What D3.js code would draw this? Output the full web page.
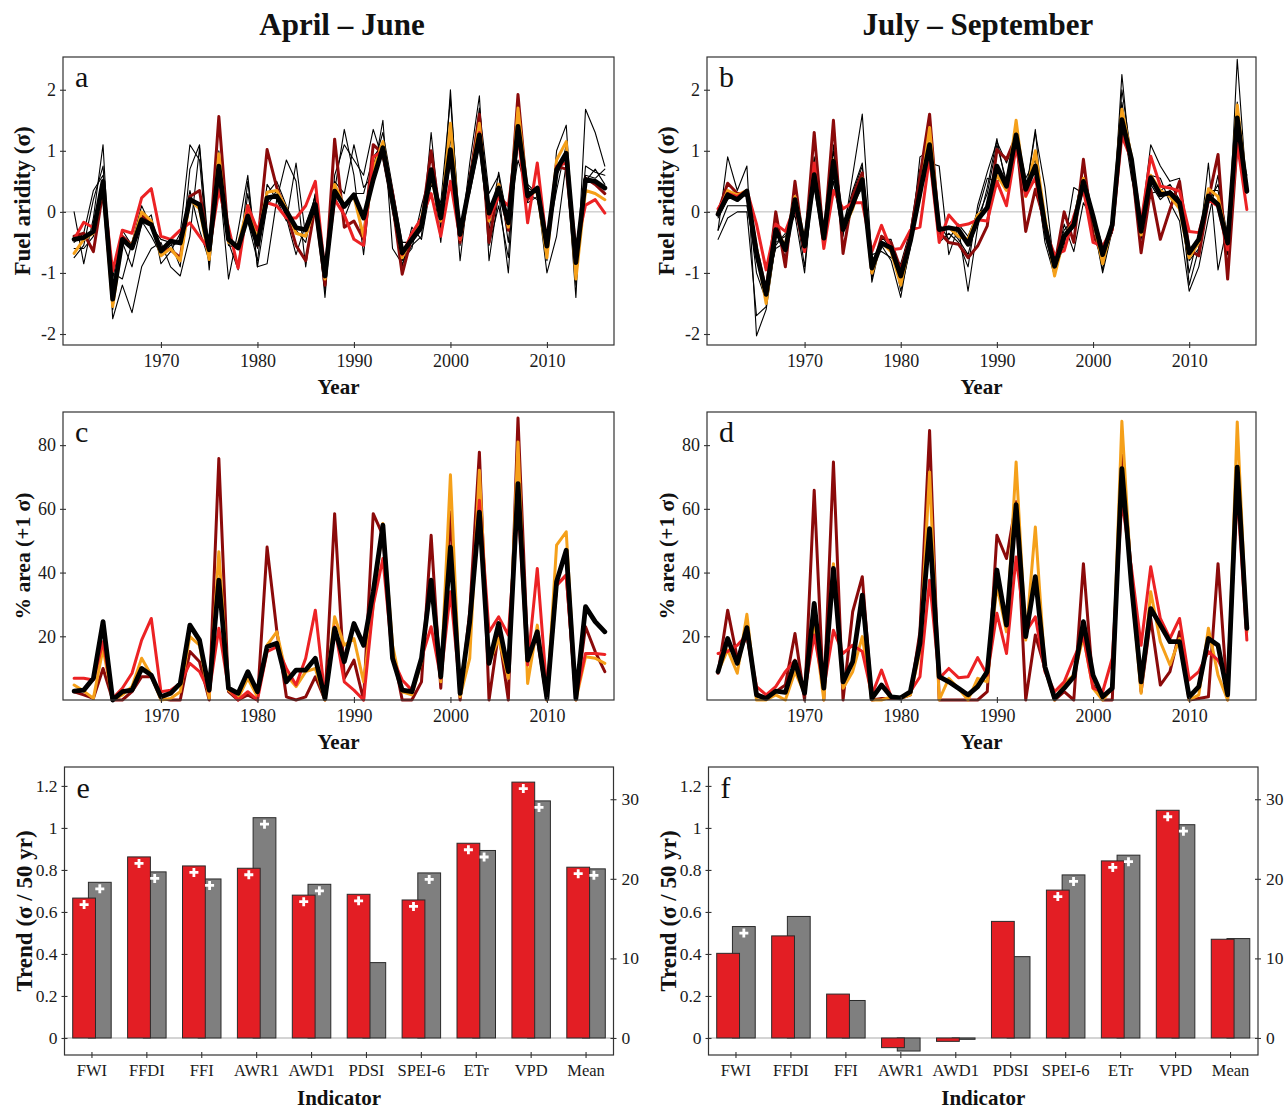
<!DOCTYPE html>
<html><head><meta charset="utf-8">
<script src="https://cdn.jsdelivr.net/npm/d3@7"></script>
<style>body{margin:0;background:#fff}</style>
</head><body>
<script>
// ---------------- DATA ----------------
const firstYear = 1961, lastYear = 2016;
const years = d3.range(firstYear, lastYear + 1);
const yearTicks = [1970, 1980, 1990, 2000, 2010];

// Panel a (April-June fuel aridity, sigma)
const aMean   = [-0.45,-0.42,-0.32,0.5,-1.43,-0.45,-0.59,-0.13,-0.21,-0.64,-0.48,-0.51,0.2,0.12,-0.62,0.75,-0.45,-0.59,-0.07,-0.53,0.23,0.26,0.01,-0.26,-0.29,0.12,-1.05,0.34,0.09,0.28,-0.1,0.53,1.05,0.2,-0.67,-0.45,-0.23,0.69,-0.1,1.02,-0.37,0.45,1.26,-0.02,0.39,-0.18,1.4,0.26,0.39,-0.56,0.69,0.96,-0.83,0.53,0.5,0.39];
const aDarkRed= [-0.4,-0.35,-0.65,0.35,-1.45,-0.4,-0.55,-0.05,-0.2,-0.6,-0.62,-0.75,0.25,0.35,-0.65,1.56,-0.45,-0.6,0.05,-0.55,1.02,0.4,0.0,-0.55,-0.8,0.1,-1.2,1.19,-0.25,-0.15,-0.45,1.1,0.95,0.15,-1.02,-0.4,-0.2,1.0,-0.15,0.95,-0.5,0.5,1.6,-0.5,0.45,-0.3,1.92,0.2,0.4,-0.6,0.75,0.7,-0.8,0.55,0.45,0.3];
const aOrange = [-0.68,-0.45,-0.35,0.45,-1.55,-0.45,-0.55,0.0,-0.15,-0.72,-0.6,-0.8,0.2,0.05,-0.78,0.95,-0.5,-0.55,0.1,-0.45,0.32,0.35,0.05,-0.35,-0.4,0.12,-1.1,0.45,0.1,0.25,-0.4,0.7,1.15,0.2,-0.75,-0.4,-0.1,0.6,-0.15,1.45,-0.45,0.45,1.45,-0.15,0.45,-0.25,1.7,0.25,0.35,-0.75,0.85,1.15,-1.1,0.35,0.3,0.2];
const aRed    = [-0.45,-0.17,-0.26,0.4,-0.97,-0.3,-0.35,0.23,0.38,-0.4,-0.45,-0.3,-0.18,-0.4,-0.62,0.36,-0.25,-0.92,0.1,-0.3,0.15,0.1,-0.1,-0.1,0.1,0.5,-1.0,0.2,-0.05,-0.45,-0.55,0.9,1.0,0.3,-0.7,-0.35,-0.1,0.3,-0.4,0.5,-0.45,0.5,1.3,-0.1,0.25,0.1,1.3,-0.18,0.8,-0.55,0.75,0.8,-0.6,0.11,0.2,-0.02];
const aThin1  = [0.0,-0.85,-0.1,1.1,-1.75,-1.2,-1.65,-0.9,-0.6,-0.5,-0.9,-1.05,-0.4,1.05,-0.85,0.6,-1.1,-0.3,0.6,-0.9,-0.85,0.2,0.85,0.5,-0.9,0.2,-1.4,0.5,0.3,1.1,0.4,0.6,1.5,-0.6,-0.85,-0.55,-0.4,1.3,-0.3,2.0,-0.55,0.8,1.9,-0.8,0.3,-1.0,1.25,0.4,0.3,-1.0,-0.4,0.8,-1.4,1.68,1.3,0.75];
const aThin2  = [-0.75,-0.55,0.2,0.75,-1.6,-0.5,-0.9,-0.2,-0.05,-0.85,-0.65,-0.35,1.1,0.85,-0.95,0.7,-0.5,-0.95,0.3,-0.6,0.3,0.5,0.1,-0.3,-0.5,0.3,-1.3,0.6,1.1,0.85,0.6,1.35,0.85,0.0,-0.8,-0.6,0.1,0.7,-0.5,1.25,-0.8,0.55,1.7,0.3,0.6,-0.5,1.1,0.45,0.3,-0.8,1.0,1.42,-1.0,0.75,0.65,0.6];
const aThin3  = [-0.5,-0.35,0.35,0.6,-1.0,-1.1,-0.5,0.1,-0.25,-0.45,-0.5,-0.9,0.7,1.1,-0.7,0.5,-0.55,-0.6,-0.15,-0.8,0.45,0.2,-0.15,0.8,-0.4,0.3,-1.1,0.35,1.35,0.6,-0.7,0.75,1.3,0.4,-0.5,-0.5,-0.3,1.0,-0.1,0.8,-0.2,0.3,1.05,-0.3,0.65,-0.2,0.85,0.3,0.2,-0.5,0.35,1.1,-0.6,0.5,0.7,0.45];
const aThin4  = [-0.6,-0.6,-0.4,0.35,-1.1,-0.3,-0.55,-0.15,-0.4,-0.7,-0.55,-0.5,0.35,-0.3,-0.8,1.0,-0.3,-0.9,0.5,-0.9,0.1,0.35,-0.1,-0.7,-0.2,0.25,-1.2,0.25,-0.1,0.3,0.3,0.9,1.1,0.35,-0.9,-0.25,-0.45,0.45,0.15,1.85,-0.3,0.6,1.5,-0.55,0.1,-0.75,1.35,0.15,0.25,-0.6,0.6,0.9,-1.2,0.6,0.55,0.7];

// Panel b (July-September fuel aridity, sigma)
const bMean   = [-0.04,0.28,0.2,0.34,-0.67,-1.35,-0.29,-0.62,0.2,-0.56,0.61,-0.43,0.83,-0.29,0.12,0.53,-0.92,-0.51,-0.59,-1.05,-0.48,0.31,1.1,-0.29,-0.26,-0.29,-0.53,-0.13,0.07,0.75,0.42,1.26,0.37,0.75,-0.23,-0.89,-0.4,-0.21,0.5,-0.07,-0.7,-0.21,1.51,0.86,-0.32,0.56,0.28,0.31,0.15,-0.67,-0.45,0.26,0.12,-0.51,1.54,0.34];
const bDarkRed= [0.0,0.47,0.3,0.3,-0.6,-1.3,0.0,-0.9,0.5,-0.65,1.3,-0.5,1.5,-0.68,0.26,0.64,-1.0,-0.4,-0.5,-0.94,-0.4,0.58,1.6,-0.33,-0.5,-0.53,-0.75,-0.56,-0.23,1.02,0.86,1.24,-0.32,0.37,-0.18,-0.89,0.0,-0.5,0.86,-0.37,-0.72,-0.29,1.4,0.8,-0.67,0.37,-0.45,0.04,0.5,-0.62,-0.72,0.2,0.94,-1.1,1.13,0.37];
const bOrange = [-0.02,0.35,0.28,0.35,-0.6,-1.5,-0.3,-0.55,0.25,-0.5,0.65,-0.4,0.85,-0.3,0.05,0.55,-1.0,-0.5,-0.65,-1.2,-0.45,0.25,1.38,-0.3,-0.25,-0.4,-0.45,-0.05,0.05,0.6,0.35,1.5,0.25,1.0,-0.1,-1.05,-0.4,-0.15,0.55,-0.1,-0.85,-0.2,1.68,0.9,-0.38,0.6,0.35,0.25,0.05,-0.75,-0.5,0.38,0.25,-0.5,1.75,0.35];
const bRed    = [0.05,0.3,0.25,0.35,-0.2,-0.95,-0.2,-0.32,0.1,-0.65,0.8,-0.6,0.35,0.05,0.15,0.15,-0.65,-0.22,-0.62,-0.6,-0.3,-0.25,0.9,-0.5,-0.05,-0.23,-0.2,-0.13,-0.15,0.5,0.1,1.07,0.26,0.56,-0.29,-0.7,-0.64,-0.07,0.37,-0.5,-0.56,-0.29,1.24,0.86,-0.18,0.91,0.42,0.39,0.34,-0.32,-0.34,0.2,0.09,-0.62,1.13,0.04];
const bThin1  = [-0.45,-0.1,0.0,0.0,-1.7,-1.55,-0.25,-0.75,0.15,-0.6,0.4,-0.55,0.5,-0.4,0.6,1.6,-0.8,-0.55,-0.8,-1.4,-0.5,0.3,0.8,0.75,-0.7,-0.25,-1.3,-0.25,0.4,1.2,0.4,1.15,0.3,1.35,-0.4,-0.95,-0.55,0.4,0.3,-0.15,-1.0,-0.3,2.25,0.65,-0.45,0.6,0.55,0.15,-0.15,-1.3,-0.9,-0.1,0.6,-0.7,2.5,0.3];
const bThin2  = [-0.3,0.9,0.35,0.75,-2.03,-1.6,-0.5,-0.4,-0.05,-1.0,0.7,-0.3,1.0,-0.2,0.35,0.8,-1.15,-0.45,-0.45,-1.3,-0.6,0.9,1.0,-0.5,-0.35,-0.5,-0.9,0.1,0.65,1.15,0.8,1.2,0.3,1.3,0.4,-0.95,-0.2,-0.65,0.15,-0.15,-0.95,-0.2,2.0,0.9,-0.2,1.1,0.75,0.5,0.55,-1.2,-0.6,0.8,-0.95,-0.2,1.3,0.6];
const bThin3  = [-0.1,0.2,0.3,0.25,-1.0,-1.45,-0.55,-0.35,0.15,-0.9,0.65,-0.35,0.7,-0.35,0.3,0.75,-1.1,-0.4,-0.6,-1.2,-0.45,0.6,0.95,-0.3,-0.25,-0.45,-0.7,-0.1,0.3,1.1,0.5,1.05,0.5,0.65,-0.5,-1.05,-0.45,-0.25,0.5,0.0,-0.85,-0.1,1.8,0.7,-0.4,0.3,0.35,0.45,0.2,-1.0,-0.35,0.35,0.35,-0.5,1.8,0.45];
const bThin4  = [-0.3,0.1,0.1,0.1,-0.8,-1.2,-0.6,-0.5,0.0,-0.4,0.9,-0.6,1.1,-0.15,0.1,0.4,-0.7,-0.65,-0.75,-0.85,-0.3,0.7,0.8,-0.2,-0.45,-0.2,-0.4,0.0,0.55,0.5,0.55,1.3,0.55,0.85,-0.3,-0.75,-0.3,-0.1,0.7,-0.05,-0.55,-0.35,1.6,0.55,-0.1,0.45,0.2,0.35,0.2,-0.8,-0.6,0.15,0.45,-0.4,1.6,0.4];

// Panel c (April-June % area above +1 sigma)
const cMean   = [2.8,3.1,6.8,24.6,0,2.6,3.1,9.9,7.8,1.0,2.1,5.2,23.5,18.8,3.1,37.6,3.7,2.1,8.9,2.6,16.7,17.8,5.7,9.4,9.4,13.1,0.5,22.5,12.0,24.0,17.2,34,54.9,13.1,3.1,2.6,13.1,37.6,7.3,48,2.1,24.6,59,11.5,24.0,8.9,67.9,12.5,21.4,0.5,37.1,47,0.5,29.3,24.6,21.4];
const cDarkRed= [2.6,1.6,0.5,9.9,0,0,2.6,7.3,7.3,0.5,0,0,15.2,12,0,75.8,2.6,0,1.6,0,48,21.9,1.0,0,1.0,7.3,0,58.5,6.8,12.5,0,58.5,51.7,15.7,0,0,5.7,51.7,3.7,59,0,27.7,77.8,0,21.4,0,88.5,15.7,19.3,0,36,39.2,0,23,15.2,8.9];
const cOrange = [4.7,2.8,0.5,16.2,0,1.6,4.2,13.1,7.8,0,0.5,2.6,19.9,17.2,0.5,46.5,3.1,0.5,6.8,1.0,17.2,21.4,7.8,4.2,8.9,9.9,0,26.1,17.2,19.3,5.7,29.8,55.4,17.2,2.6,1.6,12,37.1,5.7,70.7,1.0,13.1,72.1,11.5,19.3,6.8,81,5.2,23.5,0,48.6,52.8,0,13.6,13.1,11.5];
const cRed    = [6.8,6.8,6.3,18.3,0.5,3.7,8.4,18.8,25.6,2.6,3.1,5.2,11.5,8.9,2.6,22.5,3.7,0,2.6,0,15.2,16.7,9.9,4.7,13.1,28.2,1.0,23,5.7,3.1,0,29.8,44.4,13.1,6.3,3.1,13.1,23,6.8,34,3.1,24.6,62.7,21.4,26.1,20.4,61.7,11,41.3,2.6,36,39.2,1.0,14.6,14.6,14.3];

// Panel d (July-September % area above +1 sigma)
const dMean   = [8.9,19.3,11.5,22.7,1.6,0.5,2.8,2.4,12,2.1,30.3,3.7,41.3,5.7,12,32.9,0.5,4.7,1.0,0.7,2.6,17.8,53.8,7.3,5.7,3.7,1.6,4.2,8.9,40.8,23.5,61.3,19.9,38.7,10.4,0.5,3.7,7.3,24.6,7.8,1.0,3.7,72.6,36,5.7,28.7,23.5,18.3,18.3,1.0,4.2,19.3,17.2,1.6,73.1,22.5];
const dDarkRed= [8.4,28.2,13.1,20.4,2.1,0.5,2.6,4.7,20.9,0,65.8,0,74.7,0,27.7,38.7,0,0.5,0.5,0.5,1.6,21.4,84.6,0,0,0,0,0,2.6,51.7,44.4,62.2,0,20.4,9.9,0,2.6,0,42.8,4.7,0,0,76.8,39.2,2.6,25.6,4.7,8.9,21.4,0,0.5,1.0,42.8,0,71.6,22.5];
const dOrange = [8.9,15.7,8.4,26.9,0,0,1.6,0,8.9,2.1,23.5,0,42.8,3.7,8.9,19.9,0,0,1.0,0.5,1.6,15.2,71.6,0,6.8,3.7,0,6.8,5.7,36,21.4,74.7,18.8,54.3,9.9,0,5.2,7.8,19.9,3.7,0,3.7,87.5,36,2.1,34,18.3,11,19.3,0,1.6,22.5,7.8,0,87.3,21.4];
const dRed    = [14.6,15.2,17.2,20.4,4.2,1.6,4.2,8.9,12.5,2.6,20.4,3.7,21.9,14.6,17.2,15.2,1.6,9.4,1.0,0.7,2.6,7.3,37.6,6.8,9.9,7.0,7.3,13.3,7.8,27.2,14.6,44.9,21.4,26.1,8.9,2.6,5.7,13.1,19.9,3.7,2.6,13.1,62.7,41.3,17.2,41.8,25.6,19.3,25.6,6.3,8.9,15.2,12.5,6.8,65.3,18.8];

// Panels e/f (trends)
const indicators = ["FWI","FFDI","FFI","AWR1","AWD1","PDSI","SPEI-6","ETr","VPD","Mean"];
const eRed  = [0.666,0.862,0.819,0.808,0.680,0.684,0.657,0.927,1.218,0.813];   // sigma / 50 yr (left axis)
const eGray = [19.56,20.87,19.98,27.68,19.31,9.47,20.74,23.56,29.79,21.25];    // % area / 50 yr (right axis)
const fRed  = [0.403,0.486,0.209,-0.046,-0.016,0.555,0.704,0.843,1.084,0.470];
const fGray = [14.0,15.27,4.71,-1.64,-0.17,10.22,20.49,22.97,26.80,12.49];
const eRedSig  = [1,1,1,1,1,1,1,1,1,1];
const eGraySig = [1,1,1,1,1,0,1,1,1,1];
const fRedSig  = [0,0,0,0,0,0,1,1,1,0];
const fGraySig = [1,0,0,0,0,0,1,1,1,0];

const aridityTicks = [-2,-1,0,1,2];
const aridityTickLabels = ["-2","-1","0","1","2"];
const areaTicks = [20,40,60,80];
const trendTicks = [0,0.2,0.4,0.6,0.8,1,1.2];
const trendTickLabels = ["0","0.2","0.4","0.6","0.8","1","1.2"];
const rightTicks = [0,10,20,30];

// ---------------- DRAWING ----------------
const W = 1288, H = 1109;
const FONT = "'Liberation Serif','DejaVu Serif',serif";
const COL = {dark:"#8b0a0a", orange:"#f5a01a", red:"#ec2224", black:"#000", barRed:"#e31e24", barGray:"#7f7f7f"};
const svg = d3.select("body").append("svg").attr("width", W).attr("height", H)
  .style("font-family", FONT);
svg.append("rect").attr("width", W).attr("height", H).attr("fill", "#fff");

const colsX = [{x0:63, x1:614}, {x0:707, x1:1256}];
const rows = {a:{y0:57, y1:345}, c:{y0:412, y1:700}, e:{y0:767, y1:1055}};

// style axis: remove domain, make ticks cross the frame line
function styleAxis(g, size, orient) {
  g.select(".domain").remove();
  const tl = g.selectAll(".tick line").attr("stroke", "#333").attr("stroke-width", 1.1);
  if (orient === "h") tl.attr("y1", -3).attr("y2", 3);
  else tl.attr("x1", -3).attr("x2", 3);
  g.selectAll(".tick text").attr("font-size", size).attr("fill", "#1a1a1a").attr("font-family", FONT);
}

function addTitle(text, cx, cy, rotate, size) {
  svg.append("text")
    .attr("transform", `translate(${cx},${cy})` + (rotate ? " rotate(-90)" : ""))
    .attr("text-anchor", "middle").attr("dy", "0.35em")
    .attr("font-size", size).attr("font-weight", "bold").attr("fill", "#111").text(text);
}

function linePanel(cfg) {
  const {x0, x1, y0, y1} = cfg;
  const g = svg.append("g");
  const x = d3.scaleLinear().domain([1959.85, 2016.95]).range([x0, x1]);
  const y = d3.scaleLinear().domain(cfg.yDomain).range([y1, y0]);
  if (cfg.zero) {
    g.append("line").attr("x1", x0).attr("x2", x1).attr("y1", y(0)).attr("y2", y(0))
      .attr("stroke", "#bbb").attr("stroke-width", 1);
  }
  const line = d3.line().x((d, i) => x(years[i])).y(d => y(d)).curve(d3.curveLinear);
  cfg.series.forEach(s => {
    g.append("path").datum(s.data).attr("d", line).attr("fill", "none")
      .attr("stroke", s.color).attr("stroke-width", s.w)
      .attr("stroke-linejoin", "round").attr("stroke-linecap", "round");
  });
  const ax = g.append("g").attr("transform", `translate(0,${y1})`)
    .call(d3.axisBottom(x).tickValues(yearTicks).tickFormat(d3.format("d")).tickSize(3).tickPadding(6.5));
  styleAxis(ax, 18, "h");
  const ay = g.append("g").attr("transform", `translate(${x0},0)`)
    .call(d3.axisLeft(y).tickValues(cfg.yTicks).tickFormat((d, i) => cfg.yLabels[i]).tickSize(3).tickPadding(4));
  styleAxis(ay, 18, "v");
  g.append("rect").attr("x", x0).attr("y", y0).attr("width", x1 - x0).attr("height", y1 - y0)
    .attr("fill", "none").attr("stroke", "#333").attr("stroke-width", 1.2);
  g.append("text").attr("x", x0 + 12).attr("y", y0 + 30).attr("font-size", 30).attr("fill", "#111").text(cfg.letter);
  addTitle(cfg.xlabel, (x0 + x1) / 2, y1 + 42, false, 21);
  addTitle(cfg.ylabel, x0 - 41, (y0 + y1) / 2, true, cfg.ylabelSize);
}

function barPanel(cfg) {
  const {x0, x1, y0, y1} = cfg;
  const g = svg.append("g");
  const x = d3.scaleBand().domain(indicators).range([x0, x1]).padding(0);
  const yL = d3.scaleLinear().domain([-0.081, 1.29]).range([y1, y0]);
  const yR = d3.scaleLinear().domain([-2.14, 34.05]).range([y1, y0]);
  const bw = x.bandwidth() * 0.415, off = x.bandwidth() * 0.143;
  g.append("line").attr("x1", x0).attr("x2", x1).attr("y1", yL(0)).attr("y2", yL(0))
    .attr("stroke", "#aaa").attr("stroke-width", 1.2);
  const cx = d => x(d) + x.bandwidth() / 2;
  const drawBars = (vals, scale, dx, fill) => {
    indicators.forEach((k, i) => {
      const v = vals[i];
      const top = Math.min(scale(v), scale(0)), h = Math.abs(scale(v) - scale(0));
      g.append("rect").attr("x", cx(k) + dx - bw / 2).attr("y", top).attr("width", bw).attr("height", h)
        .attr("fill", fill).attr("stroke", "#2a2a2a").attr("stroke-width", 1);
    });
  };
  const drawSig = (vals, scale, dx, sig) => {
    indicators.forEach((k, i) => {
      if (!sig[i]) return;
      const yy = scale(vals[i]) + 6.5;
      g.append("path").attr("d", "M-4.5,0H4.5M0,-4.5V4.5")
        .attr("transform", `translate(${cx(k) + dx},${yy})`)
        .attr("stroke", "#fff").attr("stroke-width", 2.8).attr("fill", "none");
    });
  };
  drawBars(cfg.gray, yR, off, COL.barGray);
  drawBars(cfg.red, yL, -off, COL.barRed);
  drawSig(cfg.gray, yR, off, cfg.graySig);
  drawSig(cfg.red, yL, -off, cfg.redSig);

  const ax = g.append("g").attr("transform", `translate(0,${y1})`)
    .call(d3.axisBottom(x).tickSize(3).tickPadding(6.5));
  styleAxis(ax, 16.5, "h");
  const ay = g.append("g").attr("transform", `translate(${x0},0)`)
    .call(d3.axisLeft(yL).tickValues(trendTicks).tickFormat((d, i) => trendTickLabels[i]).tickSize(3).tickPadding(4));
  styleAxis(ay, 17.5, "v");
  const ar = g.append("g").attr("transform", `translate(${x1},0)`)
    .call(d3.axisRight(yR).tickValues(rightTicks).tickFormat(d3.format("d")).tickSize(3).tickPadding(5));
  styleAxis(ar, 17.5, "v");
  g.append("rect").attr("x", x0).attr("y", y0).attr("width", x1 - x0).attr("height", y1 - y0)
    .attr("fill", "none").attr("stroke", "#333").attr("stroke-width", 1.2);
  g.append("text").attr("x", x0 + 12).attr("y", y0 + 31).attr("font-size", 30).attr("fill", "#111").text(cfg.letter);
  addTitle("Indicator", (x0 + x1) / 2, y1 + 43, false, 21);
  addTitle("Trend (σ / 50 yr)", x0 - 41, (y0 + y1) / 2, true, 23);
}

const thin = d => ({data: d, color: "#000", w: 1.1});
const mk = (d, c, w) => ({data: d, color: c, w: w});

linePanel({...colsX[0], ...rows.a, yDomain:[-2.18, 2.536], yTicks: aridityTicks, yLabels: aridityTickLabels, zero:true,
  letter:"a", xlabel:"Year", ylabel:"Fuel aridity (σ)", ylabelSize:23,
  series:[thin(aThin1), thin(aThin2), thin(aThin3), thin(aThin4),
    mk(aDarkRed, COL.dark, 3), mk(aOrange, COL.orange, 3), mk(aRed, COL.red, 3), mk(aMean, COL.black, 4.8)]});
linePanel({...colsX[1], ...rows.a, yDomain:[-2.18, 2.536], yTicks: aridityTicks, yLabels: aridityTickLabels, zero:true,
  letter:"b", xlabel:"Year", ylabel:"Fuel aridity (σ)", ylabelSize:23,
  series:[thin(bThin1), thin(bThin2), thin(bThin3), thin(bThin4),
    mk(bDarkRed, COL.dark, 3), mk(bOrange, COL.orange, 3), mk(bRed, COL.red, 3), mk(bMean, COL.black, 4.8)]});
linePanel({...colsX[0], ...rows.c, yDomain:[0, 90.4], yTicks: areaTicks, yLabels: areaTicks.map(String), zero:false,
  letter:"c", xlabel:"Year", ylabel:"% area (+1 σ)", ylabelSize:21.5,
  series:[mk(cDarkRed, COL.dark, 3), mk(cOrange, COL.orange, 3), mk(cRed, COL.red, 3), mk(cMean, COL.black, 4.8)]});
linePanel({...colsX[1], ...rows.c, yDomain:[0, 90.4], yTicks: areaTicks, yLabels: areaTicks.map(String), zero:false,
  letter:"d", xlabel:"Year", ylabel:"% area (+1 σ)", ylabelSize:21.5,
  series:[mk(dDarkRed, COL.dark, 3), mk(dOrange, COL.orange, 3), mk(dRed, COL.red, 3), mk(dMean, COL.black, 4.8)]});

barPanel({x0:64.5, x1:613.5, ...rows.e, letter:"e", red:eRed, gray:eGray, redSig:eRedSig, graySig:eGraySig});
barPanel({x0:708.5, x1:1258, ...rows.e, letter:"f", red:fRed, gray:fGray, redSig:fRedSig, graySig:fGraySig});

// Column titles
svg.append("text").attr("x", 342).attr("y", 24).attr("dy", "0.35em").attr("text-anchor", "middle")
  .attr("font-size", 31).attr("font-weight", "bold").attr("fill", "#111").text("April – June");
svg.append("text").attr("x", 978).attr("y", 24).attr("dy", "0.35em").attr("text-anchor", "middle")
  .attr("font-size", 31).attr("font-weight", "bold").attr("fill", "#111").text("July – September");
</script>
</body></html>
